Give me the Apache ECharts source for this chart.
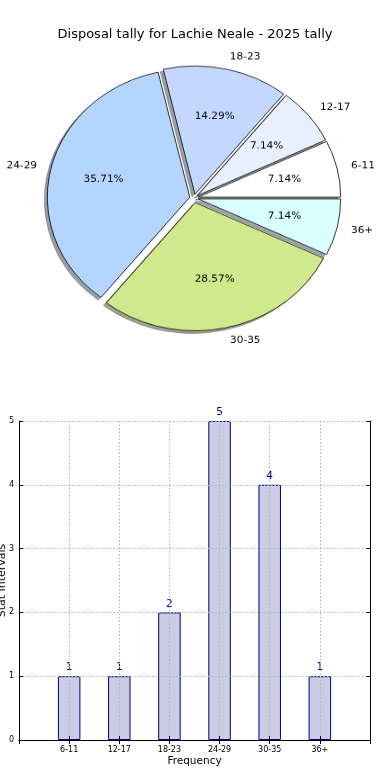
<!DOCTYPE html>
<html>
<head>
<meta charset="utf-8">
<script src="https://cdn.jsdelivr.net/npm/echarts@6/dist/echarts.min.js"></script>
<style>
html,body{margin:0;padding:0;background:#fff;}
#bar{position:absolute;left:0;top:0;width:390px;height:780px;}
#pie{position:absolute;left:0;top:0;width:390px;height:400px;transform:scaleY(0.9);transform-origin:194px 198px;}
</style>
</head>
<body>
<div id="bar"></div>
<div id="pie"></div>
<script>
// ---- data ----
const titleText = 'Disposal tally for Lachie Neale - 2025 tally';
const categories = ['6-11', '12-17', '18-23', '24-29', '30-35', '36+'];
const counts = [1, 1, 2, 5, 4, 1];
const yTicks = [0, 1, 2, 3, 4, 5];
const xAxisName = 'Frequency';
const yAxisName = 'Stat Intervals';

// ---- styles ----
const pieColors = ['#ffffff', '#e8f0ff', '#c4d8ff', '#b3d5ff', '#d0e98c', '#d9ffff'];
const explodePx = [4.3, 4.3, 4.3, 4.3, 5.2, 4.3];
const FONT = 'DejaVu Sans';
const R = 142.5;
const CX = 194, CY = 198;
const SHADOW_DX = -2.9, SHADOW_DY = 2.9;

const total = counts.reduce((a, b) => a + b, 0);

function shadowColor(hex) {
  const n = parseInt(hex.slice(1), 16);
  const r = Math.round(((n >> 16) & 255) * 0.3);
  const g = Math.round(((n >> 8) & 255) * 0.3);
  const b = Math.round((n & 255) * 0.3);
  return 'rgba(' + r + ',' + g + ',' + b + ',0.5)';
}

function sliceSeries(i, center, style, showLabel, z) {
  return {
    type: 'pie',
    center: center,
    radius: [0, R],
    startAngle: 0,
    clockwise: false,
    selectedMode: 'multiple',
    selectedOffset: explodePx[i],
    avoidLabelOverlap: false,
    animation: false,
    silent: true,
    emphasis: {disabled: true},
    z: z,
    label: {
      position: 'outside', color: '#000', fontFamily: FONT, fontSize: 10.5,
      distanceToLabelLine: 0, formatter: '{b}'
    },
    labelLine: {show: false, length: R * 0.1, length2: 0},
    data: categories.map((c, j) => j === i ? {
      name: c, value: counts[j], selected: true,
      itemStyle: style,
      select: {itemStyle: style, label: {color: '#000'}},
      label: {show: showLabel}
    } : {
      name: c, value: counts[j],
      itemStyle: {color: 'transparent', borderWidth: 0, borderColor: 'transparent'},
      label: {show: false}
    })
  };
}

// ---- pie chart ----
const pieChart = echarts.init(document.getElementById('pie'), null, {renderer: 'canvas'});
const pieSeries = [];
categories.forEach((cat, i) => {
  const sc = shadowColor(pieColors[i]);
  pieSeries.push(sliceSeries(i, [CX + SHADOW_DX, CY + SHADOW_DY],
    {color: sc, borderColor: sc, borderWidth: 0.8}, false, 2 + 2 * i));
  pieSeries.push(sliceSeries(i, [CX, CY],
    {color: pieColors[i], borderColor: '#000', borderWidth: 0.8}, true, 3 + 2 * i));
});
// percent labels (placed at 0.6 R via inside position of a 1.2 R transparent ring)
pieSeries.push({
  type: 'pie',
  center: [CX, CY],
  radius: [0, R * 1.2],
  startAngle: 0,
  clockwise: false,
  selectedMode: 'multiple',
  selectedOffset: 4.3,
  avoidLabelOverlap: false,
  animation: false,
  silent: true,
  emphasis: {disabled: true},
  z: 30,
  itemStyle: {color: 'transparent', borderWidth: 0, borderColor: 'transparent'},
  label: {
    position: 'inside', color: '#000', fontFamily: FONT, fontSize: 10.5,
    formatter: p => (p.value / total * 100).toFixed(2) + '%'
  },
  labelLine: {show: false},
  data: categories.map((c, j) => ({name: c, value: counts[j], selected: true,
    select: {itemStyle: {color: 'transparent', borderWidth: 0, borderColor: 'transparent'}}}))
});
pieChart.setOption({
  animation: false,
  textStyle: {fontFamily: FONT},
  series: pieSeries
});

// ---- bar chart ----
const barChart = echarts.init(document.getElementById('bar'), null, {renderer: 'canvas'});
const axisCats = [''].concat(categories, [' ']);
const barData = [null].concat(counts, [null]);
const gridLine = {show: true, lineStyle: {color: '#b4b4b4', width: 1, type: [1.5, 2]}};
barChart.setOption({
  animation: false,
  textStyle: {fontFamily: FONT},
  title: {
    text: titleText, left: 'center', top: 23,
    textStyle: {fontFamily: FONT, fontSize: 13, fontWeight: 'normal', color: '#000'}
  },
  grid: {left: 19, right: 20, top: 421, bottom: 40, containLabel: false, outerBoundsMode: 'none'},
  xAxis: [{
    type: 'category', data: axisCats, boundaryGap: false, position: 'bottom', z: 3,
    axisLine: {show: true, lineStyle: {color: '#000', width: 1}},
    axisTick: {show: true, inside: true, length: 4, lineStyle: {color: '#000'}},
    axisLabel: {show: true, interval: 0, color: '#000', fontSize: 8, fontFamily: FONT, margin: 6},
    splitLine: Object.assign({interval: 0}, gridLine),
    name: xAxisName, nameLocation: 'middle', nameGap: 16, nameMoveOverlap: false,
    nameTextStyle: {color: '#000', fontSize: 10.5, fontFamily: FONT}
  }, {
    type: 'category', data: axisCats, boundaryGap: false, position: 'top', z: 3,
    axisLine: {show: true, lineStyle: {color: '#000', width: 1}},
    axisTick: {show: true, inside: true, length: 4, lineStyle: {color: '#000'}},
    axisLabel: {show: false},
    splitLine: {show: false}
  }],
  yAxis: [{
    type: 'value', min: yTicks[0], max: yTicks[yTicks.length - 1], interval: 1, position: 'left', z: 3,
    axisLine: {show: true, lineStyle: {color: '#000', width: 1}},
    axisTick: {show: true, inside: true, length: 4, lineStyle: {color: '#000'}},
    axisLabel: {show: true, color: '#000', fontSize: 8, fontFamily: FONT, margin: 5},
    splitLine: gridLine,
    name: yAxisName, nameLocation: 'middle', nameGap: 11, nameMoveOverlap: false,
    nameTextStyle: {color: '#000', fontSize: 11, fontFamily: FONT}
  }, {
    type: 'value', min: yTicks[0], max: yTicks[yTicks.length - 1], interval: 1, position: 'right', z: 3,
    axisLine: {show: true, lineStyle: {color: '#000', width: 1}},
    axisTick: {show: true, inside: true, length: 4, lineStyle: {color: '#000'}},
    axisLabel: {show: false},
    splitLine: {show: false}
  }],
  series: [{
    type: 'bar',
    xAxisIndex: 0, yAxisIndex: 0,
    data: barData,
    barWidth: 22.5,
    itemStyle: {color: '#ccccE6', borderColor: '#000080', borderWidth: 1},
    label: {show: true, position: 'top', distance: 3, color: '#000080', fontSize: 10.5, fontFamily: FONT},
    emphasis: {disabled: true},
    silent: true
  }]
});
</script>
</body>
</html>
